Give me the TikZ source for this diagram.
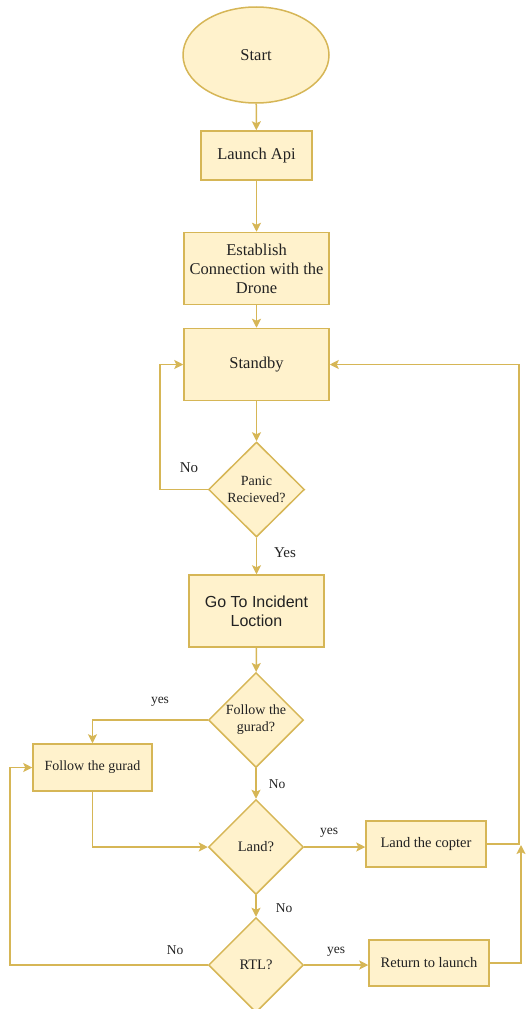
\documentclass[tikz,border=0pt]{standalone}
\usepackage{fontspec}
\setmainfont{Liberation Serif}
\newfontfamily\arialfont{Liberation Sans}
\usetikzlibrary{shapes.geometric,arrows.meta}
\definecolor{boxfill}{HTML}{FFF2CC}
\definecolor{boxline}{HTML}{D6B656}
\definecolor{txt}{HTML}{222222}
\tikzset{
  base/.style={draw=boxline,fill=boxfill,line width=1.5pt,inner sep=0pt,text=txt,align=center},
  bigbox/.style={base,rectangle,font=\fontsize{16.5}{19}\selectfont},
  smallbox/.style={base,rectangle,font=\fontsize{14.5}{17}\selectfont},
  decision/.style={base,diamond,font=\fontsize{14.5}{17.5}\selectfont},
  termin/.style={base,ellipse,font=\fontsize{16.5}{19}\selectfont},
  arr/.style={draw=boxline,line width=1.5pt,-{Stealth[length=9pt,width=9pt,inset=2pt]}},
  lbl/.style={text=txt,inner sep=0pt,font=\fontsize{14.5}{17}\selectfont},
  slbl/.style={text=txt,inner sep=0pt,font=\fontsize{13.5}{16}\selectfont},
}
\begin{document}
\begin{tikzpicture}[x=1pt,y=-1pt]
\useasboundingbox (0,0) rectangle (526,1009);
\node[termin,minimum width=146pt,minimum height=96pt] (start) at (256,55) {Start};
\node[bigbox,minimum width=111pt,minimum height=49pt] (launch) at (256.5,155.5) {Launch Api};
\node[bigbox,minimum width=145pt,minimum height=72pt] (est) at (256.5,268.5) {Establish\\Connection with the\\Drone};
\node[bigbox,minimum width=145pt,minimum height=72pt] (stand) at (256.5,364.5) {Standby};
\node[decision,minimum width=96pt,minimum height=95pt,label={[lbl,align=center,font=\fontsize{14}{17.5}\selectfont]center:Panic\\Recieved?}] (panic) at (256.5,489.5) {};
\node[bigbox,minimum width=135pt,minimum height=72pt,font=\arialfont\fontsize{16}{19}\selectfont] (goto) at (256.5,611) {Go To Incident\\Loction};
\node[decision,minimum width=95pt,minimum height=95pt,label={[lbl,align=center,font=\fontsize{14}{17}\selectfont]center:Follow the\\gurad?}] (fq) at (256,720) {};
\node[smallbox,minimum width=119pt,minimum height=47pt,font=\fontsize{14}{17}\selectfont] (fg) at (92.5,767.5) {Follow the gurad};
\node[decision,minimum width=95pt,minimum height=95pt,label={[lbl]center:Land?}] (land) at (256,847) {};
\node[smallbox,minimum width=120pt,minimum height=46pt] (landc) at (426,844) {Land the copter};
\node[decision,minimum width=95pt,minimum height=95pt,label={[lbl]center:RTL?}] (rtl) at (256,965) {};
\node[smallbox,minimum width=120pt,minimum height=46pt] (ret) at (429,963) {Return to launch};
\coordinate (retend) at (521,845);

\draw[arr] (start) -- (launch);
\draw[arr] (launch) -- (est);
\draw[arr] (est) -- (stand);
\draw[arr] (stand) -- (panic);
\draw[arr] (panic.west) -- ++(-48,0) |- (stand.west);
\draw[arr] (panic) -- (goto);
\draw[arr] (goto) -- (fq);
\draw[arr] (fq.west) -| (fg.north);
\draw[arr] (fq) -- (land);
\draw[arr] (fg.south) |- (land.west);
\draw[arr] (land.east) -- (land.east -| landc.west);
\draw[arr] (landc.east) -- ++(32,0) |- (stand.east);
\draw[arr] (land) -- (rtl);
\draw[arr] (rtl.west) -- ++(-198,0) |- (fg.west);
\draw[arr] (rtl.east) -- (rtl.east -| ret.west);
\draw[arr] (ret.east) -| (retend);

\node[lbl,font=\fontsize{15}{17}\selectfont] (l1) at (189,468) {No};
\node[lbl,font=\fontsize{15}{17}\selectfont] (l2) at (285,553) {Yes};
\node[slbl] (l3) at (160,702) {yes};
\node[slbl] (l4) at (277,784) {No};
\node[slbl] (l5) at (329,833) {yes};
\node[slbl] (l6) at (284,908) {No};
\node[slbl] (l7) at (175,950) {No};
\node[slbl] (l8) at (336,952) {yes};
\end{tikzpicture}
\end{document}
